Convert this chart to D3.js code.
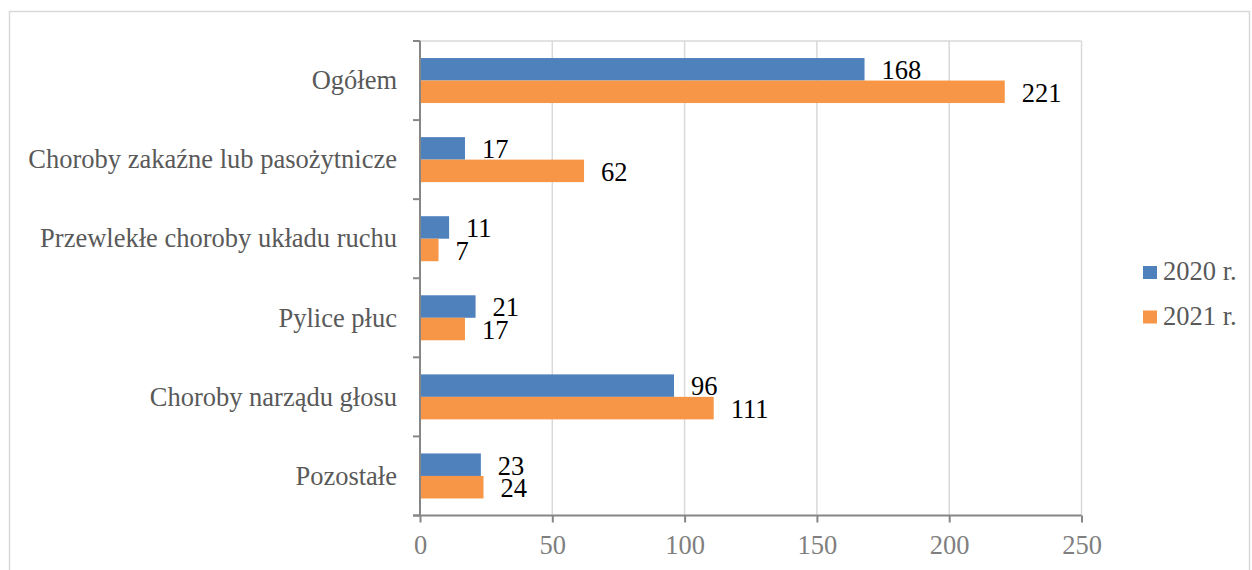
<!DOCTYPE html>
<html>
<head>
<meta charset="utf-8">
<script src="https://cdn.jsdelivr.net/npm/d3@7/dist/d3.min.js"></script>
<style>
  html, body { margin: 0; padding: 0; background: #fff; }
  svg { display: block; }
</style>
</head>
<body>
<svg id="chart" width="1252" height="570"></svg>
<script>
// Categories (top to bottom) and values for each year
const categories = [
  "Ogółem",
  "Choroby zakaźne lub pasożytnicze",
  "Przewlekłe choroby układu ruchu",
  "Pylice płuc",
  "Choroby narządu głosu",
  "Pozostałe"
];
const values2020 = [168, 17, 11, 21, 96, 23];
const values2021 = [221, 62, 7, 17, 111, 24];
const seriesNames = ["2020 r.", "2021 r."];
const seriesColors = ["#4f81bd", "#f79646"];
const xTicks = [0, 50, 100, 150, 200, 250];

const FONT = "'Liberation Serif', 'Times New Roman', serif";
const FS = 26.5;
const svg = d3.select("#chart");

// Outer chart frame
svg.append("rect")
  .attr("x", 9.5).attr("y", 11.5)
  .attr("width", 1240).attr("height", 570)
  .attr("fill", "none").attr("stroke", "#d9d9d9").attr("stroke-width", 1.5);

const plot = { left: 420, right: 1081.5, top: 41, bottom: 515.5 };

const x = d3.scaleLinear().domain([0, 250]).range([plot.left, plot.right]);
const y = d3.scaleBand().domain(categories).range([plot.top, plot.bottom]).paddingInner(0).paddingOuter(0);

// Vertical gridlines
svg.append("g").selectAll("line")
  .data(xTicks.filter(d => d > 0))
  .join("line")
  .attr("x1", d => x(d)).attr("x2", d => x(d))
  .attr("y1", plot.top).attr("y2", plot.bottom)
  .attr("stroke", "#d9d9d9").attr("stroke-width", 1.5);

// Top edge of the plot area
svg.append("line")
  .attr("x1", plot.left).attr("x2", plot.right)
  .attr("y1", plot.top).attr("y2", plot.top)
  .attr("stroke", "#d9d9d9").attr("stroke-width", 1.5);

// Bars
const rows = categories.map((c, i) => ({ cat: c, vals: [values2020[i], values2021[i]] }));
const groups = svg.append("g").selectAll("g")
  .data(rows).join("g")
  .attr("transform", d => `translate(0,${y(d.cat)})`);

const barH = 22.5;
const pairTop = (y.bandwidth() - 2 * barH) / 2;

groups.selectAll("rect")
  .data(d => d.vals.map((v, k) => ({ v, k })))
  .join("rect")
  .attr("x", x(0))
  .attr("y", d => pairTop + d.k * barH)
  .attr("width", d => x(d.v) - x(0))
  .attr("height", barH)
  .attr("fill", d => seriesColors[d.k]);

// Value labels
groups.selectAll("text")
  .data(d => d.vals.map((v, k) => ({ v, k })))
  .join("text")
  .attr("x", d => x(d.v) + 17)
  .attr("y", d => pairTop + d.k * barH + barH / 2)
  .attr("dy", "0.37em")
  .style("font-family", FONT)
  .style("font-size", FS + "px")
  .attr("fill", "#000")
  .text(d => d.v);

// Y axis line and tick marks at band boundaries
svg.append("line")
  .attr("x1", plot.left).attr("x2", plot.left)
  .attr("y1", plot.top).attr("y2", plot.bottom)
  .attr("stroke", "#868686").attr("stroke-width", 2);
const bounds = categories.map(c => y(c)).concat([plot.bottom]);
svg.append("g").selectAll("line")
  .data(bounds).join("line")
  .attr("x1", plot.left - 7).attr("x2", plot.left)
  .attr("y1", d => d).attr("y2", d => d)
  .attr("stroke", "#868686").attr("stroke-width", 2);

// Category labels
svg.append("g").selectAll("text")
  .data(categories).join("text")
  .attr("x", 397)
  .attr("y", d => y(d) + y.bandwidth() / 2)
  .attr("dy", "0.33em")
  .attr("text-anchor", "end")
  .style("font-family", FONT)
  .style("font-size", FS + "px")
  .attr("fill", "#595959")
  .text(d => d);

// X axis
const xAxis = d3.axisBottom(x).tickValues(xTicks).tickSize(7).tickPadding(13).tickSizeOuter(0);
const xg = svg.append("g").attr("transform", `translate(0,${plot.bottom})`).call(xAxis);
xg.select(".domain").attr("stroke", "#868686").attr("stroke-width", 2)
  .attr("d", `M${plot.left - 7},0H${plot.right}`);
xg.selectAll(".tick line").attr("stroke", "#868686").attr("stroke-width", 2);
xg.selectAll(".tick text")
  .style("font-family", FONT)
  .style("font-size", FS + "px")
  .attr("fill", "#7f7f7f");

// Legend
const legend = svg.append("g").selectAll("g")
  .data(seriesNames).join("g")
  .attr("transform", (d, i) => `translate(1143,${272.5 + i * 44.5})`);
legend.append("rect")
  .attr("x", 0).attr("y", -6.5).attr("width", 14).attr("height", 13)
  .attr("fill", (d, i) => seriesColors[i]);
legend.append("text")
  .attr("x", 20).attr("y", 0).attr("dy", "0.3em")
  .style("font-family", FONT)
  .style("font-size", FS + "px")
  .attr("fill", "#595959")
  .text(d => d);
</script>
</body>
</html>
